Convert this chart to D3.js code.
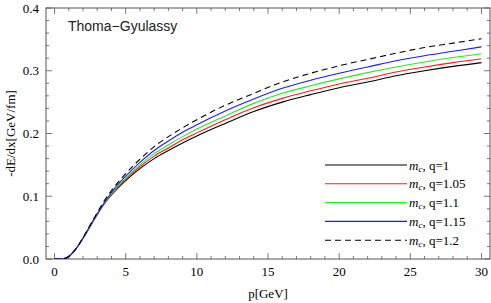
<!DOCTYPE html>
<html>
<head>
<meta charset="utf-8">
<script src="https://cdn.jsdelivr.net/npm/d3@7"></script>
<style>
  body { margin: 0; background: #fff; }
</style>
</head>
<body>
<div id="chart"></div>
<script>
// momentum grid [GeV]
var pValues = [0, 0.5, 1, 1.5, 2, 2.5, 3, 3.5, 4, 5, 6, 7, 8, 9, 10, 12, 14, 16, 18, 20, 22, 24, 26, 28, 30];

// -dE/dx [GeV/fm] for each q
var q100 = [0, 0, 0.004, 0.016, 0.033, 0.052, 0.071, 0.088, 0.102, 0.125, 0.144, 0.160, 0.173, 0.185, 0.196, 0.216, 0.235, 0.250, 0.262, 0.273, 0.282, 0.292, 0.300, 0.307, 0.313];
var q105 = [0, 0, 0.004, 0.016, 0.033, 0.052, 0.071, 0.088, 0.103, 0.127, 0.147, 0.164, 0.177, 0.190, 0.201, 0.222, 0.241, 0.256, 0.268, 0.279, 0.288, 0.298, 0.306, 0.313, 0.319];
var q110 = [0, 0, 0.004, 0.016, 0.033, 0.052, 0.072, 0.089, 0.104, 0.129, 0.150, 0.168, 0.182, 0.195, 0.207, 0.228, 0.248, 0.264, 0.276, 0.287, 0.297, 0.306, 0.314, 0.321, 0.327];
var q115 = [0, 0, 0.004, 0.016, 0.033, 0.053, 0.072, 0.090, 0.106, 0.132, 0.154, 0.173, 0.188, 0.202, 0.214, 0.236, 0.255, 0.272, 0.285, 0.296, 0.306, 0.316, 0.324, 0.331, 0.338];
var q120 = [0, 0, 0.004, 0.016, 0.034, 0.054, 0.074, 0.093, 0.109, 0.136, 0.159, 0.179, 0.195, 0.209, 0.222, 0.245, 0.264, 0.282, 0.296, 0.308, 0.318, 0.328, 0.337, 0.344, 0.351];

var qLabels = ["1", "1.05", "1.1", "1.15", "1.2"];
var xTicks = [0, 5, 10, 15, 20, 25, 30];
var yTicks = [0.0, 0.1, 0.2, 0.3, 0.4];

var series = [
  { q: qLabels[0], values: q100, color: "#000000", dash: null },
  { q: qLabels[1], values: q105, color: "#ff1a1a", dash: null },
  { q: qLabels[2], values: q110, color: "#22ee22", dash: null },
  { q: qLabels[3], values: q115, color: "#1a1aff", dash: null },
  { q: qLabels[4], values: q120, color: "#000000", dash: "6,4" }
];

var serif = "'Liberation Serif', 'Times New Roman', serif";

var W = 491, H = 303;
var margin = { top: 8, right: 1, bottom: 44, left: 46 },
  width = W - margin.left - margin.right,
  height = H - margin.top - margin.bottom;

var svg = d3.select("#chart").append("svg")
  .attr("width", W).attr("height", H)
  .attr("font-family", serif);

var g = svg.append("g")
  .attr("transform", "translate(" + margin.left + "," + margin.top + ")");

var x = d3.scaleLinear().domain([-0.6, 30.6]).range([0, width]);
var y = d3.scaleLinear().domain([0, 0.4]).range([height, 0]);

// clip for curves
svg.append("defs").append("clipPath").attr("id", "clip")
  .append("rect").attr("width", width).attr("height", height);

var frameColor = "#555";

// ticks on all four sides, pointing inward
var minorX = d3.range(0, 31, 1).filter(function (d) { return d % 5 != 0; });
var minorY = d3.range(0, 0.401, 0.02).filter(function (d) { return Math.abs(d * 10 - Math.round(d * 10)) > 1e-6; });

function drawTicks(vals, len, isX) {
  vals.forEach(function (v) {
    if (isX) {
      g.append("line").attr("x1", x(v)).attr("x2", x(v)).attr("y1", height).attr("y2", height - len)
        .attr("stroke", frameColor).attr("stroke-width", 0.8);
      g.append("line").attr("x1", x(v)).attr("x2", x(v)).attr("y1", 0).attr("y2", len)
        .attr("stroke", frameColor).attr("stroke-width", 0.8);
    } else {
      g.append("line").attr("x1", 0).attr("x2", len).attr("y1", y(v)).attr("y2", y(v))
        .attr("stroke", frameColor).attr("stroke-width", 0.8);
      g.append("line").attr("x1", width).attr("x2", width - len).attr("y1", y(v)).attr("y2", y(v))
        .attr("stroke", frameColor).attr("stroke-width", 0.8);
    }
  });
}
drawTicks(xTicks, 6, true);
drawTicks(minorX, 3, true);
drawTicks(yTicks, 6, false);
drawTicks(minorY, 3, false);

// frame
g.append("rect").attr("width", width).attr("height", height)
  .attr("fill", "none").attr("stroke", frameColor).attr("stroke-width", 1);

// tick labels
g.selectAll(".xl").data(xTicks).enter().append("text")
  .attr("x", function (d) { return x(d); })
  .attr("y", height + 17)
  .attr("text-anchor", "middle")
  .attr("font-size", 13)
  .text(function (d) { return d; });

g.selectAll(".yl").data(yTicks).enter().append("text")
  .attr("x", -7)
  .attr("y", function (d) { return y(d) + 4.5; })
  .attr("text-anchor", "end")
  .attr("font-size", 13)
  .text(function (d) { return d.toFixed(1); });

// axis titles
svg.append("text")
  .attr("x", margin.left + width / 2)
  .attr("y", 298)
  .attr("text-anchor", "middle")
  .attr("font-size", 13)
  .text("p[GeV]");

svg.append("text")
  .attr("transform", "translate(15," + (margin.top + height / 2) + ")rotate(-90)")
  .attr("text-anchor", "middle")
  .attr("font-size", 13)
  .text("-dE/dx[GeV/fm]");

// curves
var line = d3.line()
  .x(function (d) { return x(d[0]); })
  .y(function (d) { return y(d[1]); })
  .curve(d3.curveMonotoneX);

var curves = g.append("g").attr("clip-path", "url(#clip)");
series.forEach(function (s) {
  curves.append("path")
    .datum(pValues.map(function (p, i) { return [p, s.values[i]]; }))
    .attr("d", line)
    .attr("fill", "none")
    .attr("stroke", s.color)
    .attr("stroke-width", 1.1)
    .attr("stroke-dasharray", s.dash);
});

// plot label
g.append("text")
  .attr("x", 22)
  .attr("y", 23)
  .attr("font-size", 14)
  .attr("font-family", "'Liberation Sans', Arial, sans-serif")
  .attr("fill", "#222")
  .text("Thoma\u2212Gyulassy");

// legend
var legend = svg.append("g").attr("transform", "translate(325,165)");
series.forEach(function (s, i) {
  var row = legend.append("g").attr("transform", "translate(0," + i * 18.8 + ")");
  row.append("line").attr("x1", 0).attr("x2", 82).attr("y1", 0).attr("y2", 0)
    .attr("stroke", s.color).attr("stroke-width", 1.1)
    .attr("stroke-dasharray", s.dash);
  var t = row.append("text").attr("x", 84).attr("y", 4.5).attr("font-size", 13);
  t.append("tspan").attr("font-style", "italic").text("m");
  t.append("tspan").attr("font-style", "italic").attr("font-size", 9).attr("dy", 2).text("c");
  t.append("tspan").attr("dy", -2).text(", q=" + s.q);
});
</script>
</body>
</html>
